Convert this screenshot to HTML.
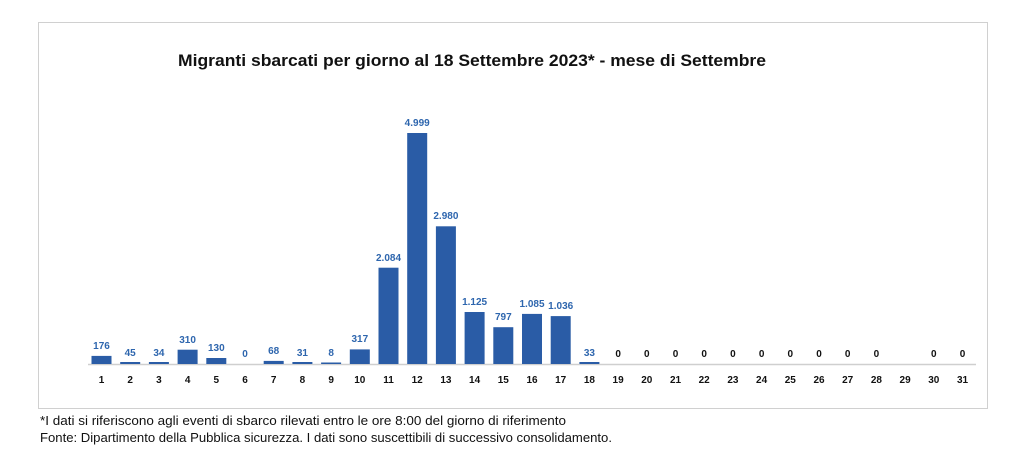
<!DOCTYPE html>
<html><head><meta charset="utf-8"><style>
body{margin:0;background:#fff;width:1024px;height:464px;overflow:hidden}
svg{display:block;font-family:"Liberation Sans",sans-serif}
</style></head><body>
<svg width="1024" height="464" viewBox="0 0 1024 464">
<rect x="38.5" y="22.5" width="949" height="386" fill="#fff" stroke="#d0d0d0"/>
<text x="178" y="66" font-size="17" font-weight="bold" textLength="588" lengthAdjust="spacingAndGlyphs" fill="#111">Migranti sbarcati per giorno al 18 Settembre 2023* - mese di Settembre</text>
<line x1="88" y1="364.5" x2="976" y2="364.5" stroke="#cfcfcf" stroke-width="1.5"/>
<g fill="#2a5ca6">
<rect x="91.5" y="355.9" width="20" height="8.1"/>
<rect x="120.2" y="362" width="20" height="2"/>
<rect x="148.9" y="362" width="20" height="2"/>
<rect x="177.6" y="349.7" width="20" height="14.3"/>
<rect x="206.3" y="358" width="20" height="6"/>
<rect x="263.7" y="360.9" width="20" height="3.1"/>
<rect x="292.4" y="362" width="20" height="2"/>
<rect x="321.1" y="362.5" width="20" height="1.5"/>
<rect x="349.8" y="349.4" width="20" height="14.6"/>
<rect x="378.5" y="267.7" width="20" height="96.3"/>
<rect x="407.2" y="133" width="20" height="231"/>
<rect x="435.9" y="226.3" width="20" height="137.7"/>
<rect x="464.6" y="312" width="20" height="52"/>
<rect x="493.3" y="327.2" width="20" height="36.8"/>
<rect x="522" y="313.9" width="20" height="50.1"/>
<rect x="550.7" y="316.1" width="20" height="47.9"/>
<rect x="579.4" y="362" width="20" height="2"/>
</g>
<g font-size="10" font-weight="bold" fill="#2e66ae" text-anchor="middle">
<text x="101.5" y="349">176</text>
<text x="130.2" y="356">45</text>
<text x="158.9" y="356">34</text>
<text x="187.6" y="343">310</text>
<text x="216.3" y="351">130</text>
<text x="245" y="357">0</text>
<text x="273.7" y="354">68</text>
<text x="302.4" y="356">31</text>
<text x="331.1" y="356">8</text>
<text x="359.8" y="342">317</text>
<text x="388.5" y="261">2.084</text>
<text x="417.2" y="126">4.999</text>
<text x="445.9" y="219">2.980</text>
<text x="474.6" y="305">1.125</text>
<text x="503.3" y="320">797</text>
<text x="532" y="307">1.085</text>
<text x="560.7" y="309">1.036</text>
<text x="589.4" y="356">33</text>
</g>
<g font-size="10" font-weight="bold" fill="#111" text-anchor="middle">
<text x="618.1" y="357">0</text><text x="646.8" y="357">0</text><text x="675.5" y="357">0</text><text x="704.2" y="357">0</text><text x="732.9" y="357">0</text><text x="761.6" y="357">0</text><text x="790.3" y="357">0</text><text x="819" y="357">0</text><text x="847.7" y="357">0</text><text x="876.4" y="357">0</text><text x="933.8" y="357">0</text><text x="962.5" y="357">0</text>
</g>
<g font-size="10" font-weight="bold" fill="#111" text-anchor="middle">
<text x="101.5" y="383">1</text><text x="130.2" y="383">2</text><text x="158.9" y="383">3</text><text x="187.6" y="383">4</text><text x="216.3" y="383">5</text><text x="245" y="383">6</text><text x="273.7" y="383">7</text><text x="302.4" y="383">8</text><text x="331.1" y="383">9</text><text x="359.8" y="383">10</text><text x="388.5" y="383">11</text><text x="417.2" y="383">12</text><text x="445.9" y="383">13</text><text x="474.6" y="383">14</text><text x="503.3" y="383">15</text><text x="532" y="383">16</text><text x="560.7" y="383">17</text><text x="589.4" y="383">18</text><text x="618.1" y="383">19</text><text x="646.8" y="383">20</text><text x="675.5" y="383">21</text><text x="704.2" y="383">22</text><text x="732.9" y="383">23</text><text x="761.6" y="383">24</text><text x="790.3" y="383">25</text><text x="819" y="383">26</text><text x="847.7" y="383">27</text><text x="876.4" y="383">28</text><text x="905.1" y="383">29</text><text x="933.8" y="383">30</text><text x="962.5" y="383">31</text>
</g>
<text x="40" y="425" font-size="12.5" fill="#111" textLength="526" lengthAdjust="spacingAndGlyphs">*I dati si riferiscono agli eventi di sbarco rilevati entro le ore 8:00 del giorno di riferimento</text>
<text x="40" y="442" font-size="12.5" fill="#111" textLength="572" lengthAdjust="spacingAndGlyphs">Fonte: Dipartimento della Pubblica sicurezza. I dati sono suscettibili di successivo consolidamento.</text>
</svg>
</body></html>
